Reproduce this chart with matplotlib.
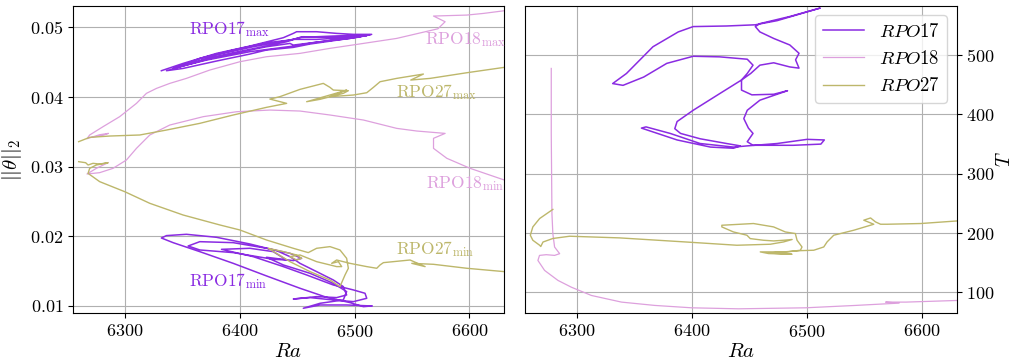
import matplotlib
matplotlib.use("Agg")
import matplotlib.pyplot as plt

plt.rcParams["font.family"] = "cmr10"
plt.rcParams["mathtext.fontset"] = "cm"
plt.rcParams["axes.formatter.use_mathtext"] = True
plt.rcParams["axes.unicode_minus"] = False

# colours of the three orbits
c17 = "#8a2be2"
c18 = "plum"
c27 = "#bdb76b"

# ---- left panel: max / min of ||theta||_2 versus Ra ----
rpo17_max_ra = [6331.9, 6350.8, 6379.9, 6408.9, 6438.0, 6446.7, 6449.6, 6467.0, 6484.4, 6499.0,
                6514.9, 6501.9, 6481.5, 6461.2, 6446.7, 6423.4, 6408.9, 6379.9, 6350.8, 6336.3,
                6353.7, 6379.9, 6408.9, 6440.9, 6452.5, 6481.5, 6513.5, 6496.0, 6469.9, 6446.7,
                6443.8, 6423.4, 6394.4, 6365.3, 6342.1, 6365.3, 6394.4, 6423.4, 6443.8, 6455.4,
                6481.5, 6510.6, 6487.3, 6464.1, 6446.7, 6408.9, 6371.2, 6347.9, 6379.9, 6411.8,
                6446.7, 6467.0, 6481.5, 6504.8]
rpo17_max_th = [0.04378, 0.04483, 0.04627, 0.04732, 0.04852, 0.04914, 0.04938, 0.04938, 0.04914, 0.04900,
                0.04900, 0.04856, 0.04809, 0.04761, 0.04713, 0.04675, 0.04617, 0.04517, 0.04411, 0.04378,
                0.04459, 0.04579, 0.04684, 0.04794, 0.04856, 0.04876, 0.04895, 0.04842, 0.04794, 0.04746,
                0.04770, 0.04722, 0.04627, 0.04517, 0.04411, 0.04555, 0.04675, 0.04780, 0.04818, 0.04866,
                0.04856, 0.04880, 0.04833, 0.04780, 0.04732, 0.04651, 0.04531, 0.04435, 0.04603, 0.04722,
                0.04828, 0.04828, 0.04842, 0.04876]

rpo17_min_ra = [6514.9, 6507.7, 6496.0, 6475.7, 6452.5, 6423.4, 6394.4, 6365.3, 6342.1, 6331.9,
                6336.3, 6353.7, 6379.9, 6408.9, 6432.2, 6443.8, 6452.5, 6469.9, 6481.5, 6490.2,
                6493.1, 6484.4, 6467.0, 6446.7, 6461.2, 6481.5, 6499.0, 6510.6, 6509.1, 6499.0,
                6481.5, 6458.3, 6438.0, 6411.8, 6384.2, 6408.9, 6429.2, 6440.9, 6429.2, 6394.4,
                6365.3, 6355.2, 6365.3, 6394.4, 6423.4, 6443.8, 6453.9, 6446.7, 6423.4, 6438.0,
                6461.2, 6481.5, 6493.1, 6490.2, 6469.9, 6455.4, 6469.9, 6493.1, 6514.9]
rpo17_min_th = [0.01000, 0.00990, 0.01048, 0.01124, 0.01254, 0.01431, 0.01612, 0.01780, 0.01909, 0.01976,
                0.02010, 0.02029, 0.01986, 0.01890, 0.01794, 0.01708, 0.01612, 0.01469, 0.01373, 0.01278,
                0.01158, 0.01120, 0.01134, 0.01100, 0.01120, 0.01086, 0.01062, 0.01110, 0.01182, 0.01230,
                0.01301, 0.01445, 0.01565, 0.01708, 0.01813, 0.01828, 0.01780, 0.01660, 0.01670, 0.01766,
                0.01804, 0.01861, 0.01923, 0.01909, 0.01828, 0.01756, 0.01684, 0.01651, 0.01699, 0.01589,
                0.01469, 0.01325, 0.01206, 0.01086, 0.01038, 0.00967, 0.01014, 0.01014, 0.01000]

rpo18_max_ra = [6630.2, 6612.3, 6597.7, 6568.7, 6578.8, 6572.5, 6536.7, 6507.7, 6478.6, 6452.5,
                6423.4, 6400.2, 6374.1, 6353.7, 6339.2, 6327.6, 6318.9, 6310.2, 6295.6, 6281.1,
                6269.5, 6267.2, 6278.2, 6285.8, 6281.1, 6271.0]
rpo18_max_th = [0.05239, 0.05201, 0.05177, 0.05163, 0.05081, 0.04980, 0.04842, 0.04770, 0.04699, 0.04627,
                0.04579, 0.04507, 0.04388, 0.04268, 0.04196, 0.04124, 0.04053, 0.03909, 0.03718, 0.03574,
                0.03455, 0.03402, 0.03459, 0.03478, 0.03450, 0.03421]

rpo18_min_ra = [6285.5, 6275.3, 6267.2, 6278.2, 6289.8, 6301.5, 6310.2, 6321.8, 6339.2, 6368.3,
                6397.3, 6426.3, 6452.5, 6478.6, 6507.7, 6536.7, 6554.1, 6578.8, 6568.7, 6568.7,
                6580.3, 6600.6, 6630.2]
rpo18_min_th = [0.03057, 0.02976, 0.02895, 0.02914, 0.02976, 0.03096, 0.03263, 0.03455, 0.03598, 0.03718,
                0.03789, 0.03813, 0.03799, 0.03742, 0.03670, 0.03550, 0.03512, 0.03478, 0.03407, 0.03263,
                0.03120, 0.02976, 0.02809]

rpo27_max_ra = [6259.9, 6269.5, 6286.9, 6313.1, 6336.3, 6365.3, 6394.4, 6423.4, 6440.9, 6426.3,
                6435.0, 6452.5, 6472.8, 6478.6, 6481.5, 6494.6, 6490.2, 6469.9, 6458.3, 6481.5,
                6493.1, 6478.6, 6499.0, 6510.6, 6516.4, 6522.2, 6536.7, 6559.9, 6548.9, 6565.8,
                6597.7, 6630.2]
rpo27_max_th = [0.03359, 0.03421, 0.03440, 0.03455, 0.03526, 0.03622, 0.03742, 0.03852, 0.03909, 0.03971,
                0.04005, 0.04110, 0.04196, 0.04139, 0.04100, 0.04091, 0.04053, 0.03967, 0.03933, 0.04043,
                0.04100, 0.04005, 0.04029, 0.04062, 0.04139, 0.04220, 0.04268, 0.04330, 0.04244, 0.04268,
                0.04349, 0.04426]

rpo27_min_ra = [6259.9, 6266.0, 6268.1, 6272.4, 6278.2, 6285.5, 6275.3, 6269.5, 6268.1, 6278.2,
                6300.0, 6321.8, 6350.8, 6382.8, 6400.2, 6423.4, 6446.7, 6459.7, 6467.0, 6478.6,
                6487.3, 6493.1, 6494.6, 6491.7, 6487.3, 6478.6, 6461.2, 6443.8, 6424.9, 6438.0,
                6449.6, 6453.9, 6449.6, 6443.8, 6452.5, 6467.0, 6478.6, 6484.4, 6488.8, 6485.9,
                6480.1, 6484.4, 6496.0, 6510.6, 6519.3, 6522.2, 6525.1, 6548.3, 6561.4, 6549.8,
                6568.7, 6597.7, 6630.2]
rpo27_min_th = [0.03072, 0.03057, 0.03024, 0.03048, 0.03038, 0.03057, 0.03024, 0.02976, 0.02904, 0.02785,
                0.02641, 0.02474, 0.02306, 0.02163, 0.02091, 0.01947, 0.01828, 0.01766, 0.01828, 0.01852,
                0.01804, 0.01684, 0.01541, 0.01445, 0.01278, 0.01373, 0.01493, 0.01636, 0.01828, 0.01780,
                0.01732, 0.01684, 0.01660, 0.01708, 0.01732, 0.01636, 0.01589, 0.01565, 0.01565, 0.01636,
                0.01612, 0.01660, 0.01612, 0.01565, 0.01541, 0.01589, 0.01622, 0.01660, 0.01565, 0.01612,
                0.01598, 0.01541, 0.01493]

# ---- right panel: period T versus Ra ----
rpo17_T_ra = [6511, 6485, 6459, 6455, 6459, 6471, 6485, 6493, 6490, 6493, 6485, 6471, 6459, 6451,
              6443, 6424, 6401, 6387, 6385, 6390, 6407, 6430, 6442, 6436, 6416, 6387, 6356, 6360,
              6381, 6407, 6436, 6448, 6474, 6500, 6515, 6512, 6488, 6453, 6448, 6453, 6449, 6445,
              6448, 6459, 6483, 6471, 6452, 6443, 6443, 6448, 6453, 6448, 6424, 6401, 6378, 6358,
              6340, 6331, 6343, 6366, 6388, 6401, 6430, 6455, 6474, 6511]
rpo17_T = [579, 565, 553, 548, 539, 528, 517, 503, 492, 478, 480, 487, 483, 469,
           458, 435, 407, 388, 376, 368, 359, 351, 347, 343, 345, 357, 377, 379,
           368, 351, 345, 347, 351, 358, 357, 350, 348, 348, 354, 368, 377, 393,
           407, 424, 440, 434, 433, 441, 458, 469, 483, 493, 497, 498, 486, 463,
           449, 452, 469, 514, 539, 548, 549, 551, 558, 579]

rpo18_T_ra = [6277.6, 6277.6, 6278.2, 6279.0, 6280.5, 6284.9, 6280.5, 6273.3, 6267.4, 6266.0,
              6271.8, 6283.4, 6295.0, 6312.5, 6338.7, 6367.7, 6399.7, 6440.4, 6498.5, 6542.0,
              6580.0, 6568.3, 6585.8, 6630.8]
rpo18_T = [477.5, 367.8, 232.8, 199.0, 176.6, 165.4, 162.5, 163.7, 162.5, 154.0,
           137.2, 120.4, 109.0, 95.0, 83.8, 78.2, 74.2, 72.5, 74.2, 78.2,
           82.1, 83.8, 83.8, 86.6]

rpo27_T_ra = [6279.0, 6267.5, 6261.6, 6259.4, 6261.6, 6267.5, 6268.5, 6270.4, 6279.0, 6293.6,
              6337.0, 6395.4, 6439.0, 6468.0, 6479.6, 6487.0, 6479.6, 6470.9, 6462.2, 6450.6,
              6447.7, 6436.0, 6425.9, 6425.9, 6453.4, 6470.9, 6481.1, 6489.8, 6491.3, 6495.6,
              6494.2, 6482.6, 6459.3, 6466.5, 6486.9, 6466.5, 6494.2, 6505.8, 6514.5, 6517.4,
              6523.2, 6540.6, 6558.0, 6549.3, 6555.2, 6559.5, 6563.9, 6569.7, 6598.8, 6630.8]
rpo27_T = [240.0, 224.6, 210.5, 196.5, 188.0, 179.6, 177.5, 185.0, 191.0, 194.8,
           192.0, 185.0, 179.6, 181.3, 185.2, 189.3, 188.0, 186.9, 188.0, 190.8,
           196.5, 202.0, 210.5, 213.3, 216.2, 210.5, 202.0, 199.3, 188.0, 176.7,
           171.2, 168.4, 168.4, 165.6, 164.4, 166.5, 170.5, 171.2, 176.7, 185.2,
           196.5, 204.9, 215.0, 221.8, 225.6, 218.9, 215.0, 215.0, 216.2, 220.6]

fig = plt.figure(figsize=(10.14, 3.63), dpi=100)
ax1 = fig.add_axes([0.072, 0.137, 0.425, 0.847])
ax2 = fig.add_axes([0.518, 0.137, 0.4254, 0.847])

ax1.plot(rpo17_max_ra, rpo17_max_th, color=c17, lw=1.1)
ax1.plot(rpo17_min_ra, rpo17_min_th, color=c17, lw=1.1)
ax1.plot(rpo18_max_ra, rpo18_max_th, color=c18, lw=0.9)
ax1.plot(rpo18_min_ra, rpo18_min_th, color=c18, lw=0.9)
ax1.plot(rpo27_max_ra, rpo27_max_th, color=c27, lw=1.0)
ax1.plot(rpo27_min_ra, rpo27_min_th, color=c27, lw=1.0)

lab = dict(fontsize=12.5, ha="center", va="center")
ax1.text(6391, 0.0497, r"$\mathrm{RPO17}_{\mathrm{max}}$", color=c17, **lab)
ax1.text(6390, 0.0136, r"$\mathrm{RPO17}_{\mathrm{min}}$", color=c17, **lab)
ax1.text(6596, 0.0482, r"$\mathrm{RPO18}_{\mathrm{max}}$", color=c18, **lab)
ax1.text(6596, 0.0276, r"$\mathrm{RPO18}_{\mathrm{min}}$", color=c18, **lab)
ax1.text(6571, 0.0407, r"$\mathrm{RPO27}_{\mathrm{max}}$", color=c27, **lab)
ax1.text(6570, 0.0182, r"$\mathrm{RPO27}_{\mathrm{min}}$", color=c27, **lab)

ax1.set_xlim(6255, 6630)
ax1.set_ylim(0.00895, 0.0531)
ax1.set_xticks([6300, 6400, 6500, 6600])
ax1.set_yticks([0.01, 0.02, 0.03, 0.04, 0.05])
ax1.set_xlabel(r"$Ra$", fontsize=15, labelpad=2)
ax1.set_ylabel(r"$||\theta||_2$", fontsize=15, labelpad=4)
ax1.grid(True, color="#b0b0b0", lw=0.8)
ax1.tick_params(labelsize=13)

ax2.plot(rpo17_T_ra, rpo17_T, color=c17, lw=1.1, label=r"$RPO17$")
ax2.plot(rpo18_T_ra, rpo18_T, color=c18, lw=0.9, label=r"$RPO18$")
ax2.plot(rpo27_T_ra, rpo27_T, color=c27, lw=1.0, label=r"$RPO27$")
ax2.set_xlim(6255, 6630)
ax2.set_ylim(65, 583)
ax2.set_xticks([6300, 6400, 6500, 6600])
ax2.set_yticks([100, 200, 300, 400, 500])
ax2.yaxis.tick_right()
ax2.yaxis.set_label_position("right")
ax2.set_xlabel(r"$Ra$", fontsize=15, labelpad=2)
ax2.set_ylabel(r"$T$", fontsize=14, labelpad=1)
ax2.grid(True, color="#b0b0b0", lw=0.8)
ax2.tick_params(labelsize=13)
ax2.legend(loc="upper right", fontsize=13.5, handlelength=2.2)

fig.savefig("out.png", dpi=100)
